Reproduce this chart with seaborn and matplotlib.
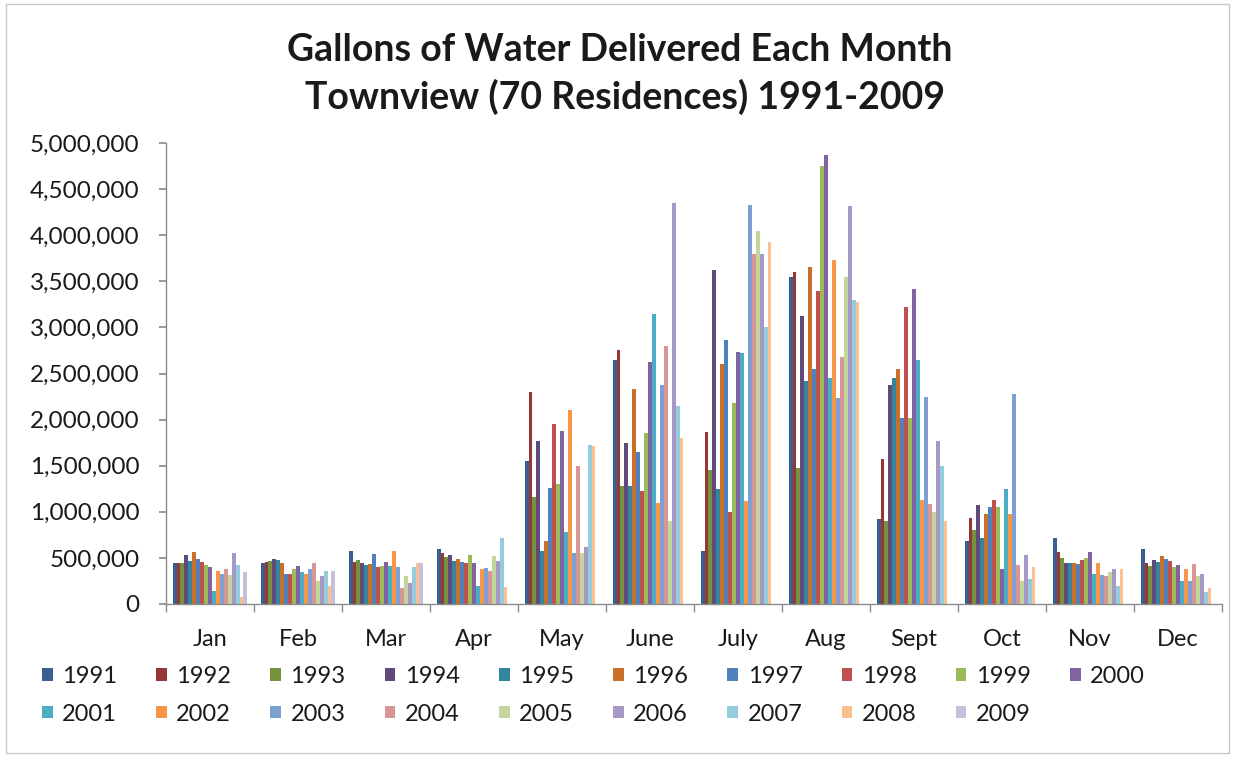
import numpy as np
import pandas as pd
import matplotlib
matplotlib.use("Agg")
import matplotlib.pyplot as plt
import seaborn as sns
from matplotlib.patches import Patch, Rectangle
from matplotlib.ticker import FuncFormatter, FixedLocator, MultipleLocator

months = ["Jan", "Feb", "Mar", "Apr", "May", "June",
          "July", "Aug", "Sept", "Oct", "Nov", "Dec"]
years = [str(y) for y in range(1991, 2010)]
nan = np.nan

# Thousands of gallons delivered, one value per year 1991 ... 2009
jan = [440, 440, 450, 530, 470, 560, 490, 460, 420, 400, 140, 360, 330, 380, 310, 550, 420, 80, 350]
feb = [450, 460, 470, 490, 480, 440, 330, 320, 380, 410, 350, 320, 380, 440, 250, 300, 360, 190, 360]
mar = [570, 460, 480, 440, 420, 430, 540, 400, 410, 460, 410, 580, 400, 170, 300, 230, 400, 440, 440]
apr = [600, 550, 510, 530, 470, 490, 460, 440, 530, 450, 200, 380, 390, 360, 520, 470, 720, 180, nan]
may = [1550, 2300, 1160, 1770, 570, 680, 1260, 1950, 1300, 1880, 780, 2100, 550, 1500, 550, 620, 1720, 1710, nan]
jun = [2650, 2750, 1280, 1750, 1280, 2330, 1650, 1230, 1850, 2630, 3150, 1100, 2380, 2800, 900, 4350, 2150, 1800, nan]
jul = [570, 1870, 1450, 3620, 1250, 2600, 2860, 1000, 2180, 2730, 2720, 1120, 4330, 3800, 4050, 3800, 3000, 3930, nan]
aug = [3550, 3600, 1470, 3120, 2420, 3650, 2550, 3400, 4750, 4870, 2450, 3730, 2230, 2680, 3550, 4320, 3300, 3280, nan]
sep = [920, 1570, 900, 2380, 2450, 2550, 2020, 3220, 2020, 3420, 2650, 1130, 2250, 1080, 1000, 1770, 1500, 900, nan]
oct_ = [680, 930, 800, 1070, 720, 980, 1050, 1130, 1050, 380, 1250, 980, 2280, 420, 250, 530, 270, 400, nan]
nov = [720, 560, 500, 450, 440, 440, 430, 480, 500, 560, 330, 450, 310, 300, 350, 380, 200, 380, nan]
dec = [600, 450, 410, 480, 460, 520, 490, 470, 400, 420, 250, 380, 250, 430, 300, 330, 130, 170, nan]

monthly = [jan, feb, mar, apr, may, jun, jul, aug, sep, oct_, nov, dec]

colors = ["#3B5F8E", "#943735", "#76923C", "#5F4A7B", "#31859C", "#C8702C",
          "#4F81BD", "#C0504D", "#9BBB59", "#8064A2", "#4BACC6", "#F79646",
          "#7E9FD2", "#D99694", "#C3D69B", "#A898C8", "#93CDDD", "#FAC090",
          "#C6BFDC"]

rows = []
for m, vals in zip(months, monthly):
    for y, v in zip(years, vals):
        rows.append({"month": m, "year": y, "gallons": v * 1000})
df = pd.DataFrame(rows)

sns.set_theme(style="white")
plt.rcParams["font.family"] = ["Lato", "DejaVu Sans"]

W, H = 1233, 757
fig = plt.figure(figsize=(W / 100, H / 100), dpi=100)
ax = fig.add_axes([166 / W, (H - 604) / H, 1056 / W, 461 / H])

sns.barplot(data=df, x="month", y="gallons", hue="year", order=months,
            hue_order=years, palette=colors, saturation=1, width=0.85,
            gap=0, dodge=True, errorbar=None, linewidth=0, legend=False,
            ax=ax)

ax.set_xlim(-0.5, 11.5)
ax.set_ylim(0, 5_000_000)
ax.yaxis.set_major_locator(MultipleLocator(500_000))
ax.yaxis.set_major_formatter(FuncFormatter(lambda v, _: f"{v:,.0f}"))
ax.set_xlabel("")
ax.set_ylabel("")

axis_grey = "#8C8C8C"
for side in ["top", "right"]:
    ax.spines[side].set_visible(False)
for side in ["left", "bottom"]:
    ax.spines[side].set_color(axis_grey)
    ax.spines[side].set_linewidth(1.0)

ax.tick_params(axis="y", which="major", direction="out", length=5,
               color=axis_grey, labelsize=17.5, pad=14, left=True,
               labelcolor="#1a1a1a")
ax.tick_params(axis="x", which="major", length=0, labelsize=17, pad=18,
               labelcolor="#1a1a1a")
ax.xaxis.set_minor_locator(FixedLocator(np.arange(-0.5, 12, 1.0)))
ax.tick_params(axis="x", which="minor", direction="out", length=6,
               color=axis_grey, bottom=True)

fig.text(0.503, 1 - 50 / H, "Gallons of Water Delivered Each Month",
         ha="center", va="center", fontsize=27, fontweight="bold",
         color="#1a1a1a")
fig.text(0.507, 1 - 97 / H, "Townview (70 Residences) 1991-2009",
         ha="center", va="center", fontsize=27, fontweight="bold",
         color="#1a1a1a")

# Legend reads across: 1991-2000 on the first row, 2001-2009 on the second.
handles = [Patch(facecolor=c, edgecolor="none", label=y)
           for c, y in zip(colors, years)]
ncol = 10
ordered = []
for col in range(ncol):
    ordered.append(handles[col])
    if col + ncol < len(handles):
        ordered.append(handles[col + ncol])
ordered = [h for h in ordered if h.get_label() != years[ncol - 1]] + [handles[ncol - 1]]

fig.legend(handles=ordered, ncol=ncol, loc="upper left",
           bbox_to_anchor=(42 / W, 1 - 666 / H), frameon=False,
           fontsize=17, handlelength=0.45, handleheight=0.45,
           handletextpad=0.4, columnspacing=1.66, labelspacing=0.7,
           borderpad=0, borderaxespad=0, labelcolor="#1a1a1a")

fig.add_artist(Rectangle((6 / W, 4 / H), (W - 10) / W, (H - 8) / H,
                         transform=fig.transFigure, fill=False,
                         edgecolor="#C8C8C8", linewidth=1.0))

fig.savefig("out.png", dpi=100)
